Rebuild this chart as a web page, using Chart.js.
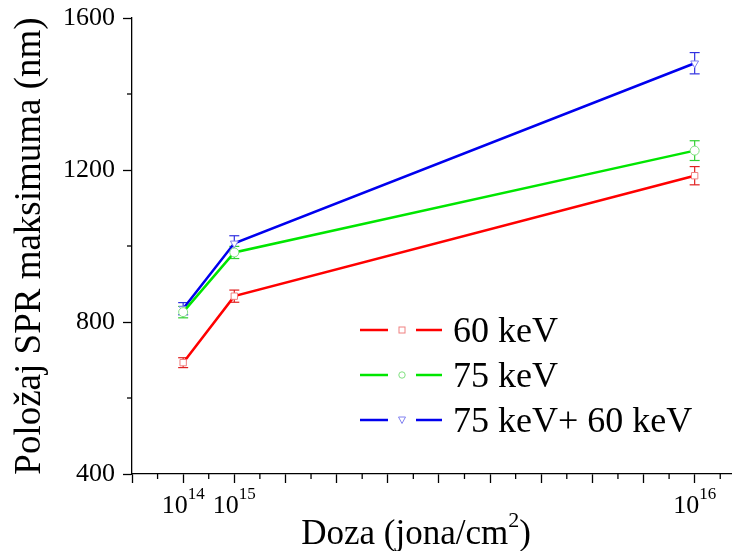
<!DOCTYPE html>
<html>
<head>
<meta charset="utf-8">
<script src="https://cdn.jsdelivr.net/npm/chart.js@4/dist/chart.umd.min.js"></script>
<style>
  html, body { margin: 0; padding: 0; background: #fff; }
  #wrap { position: relative; width: 737px; height: 551px; }
</style>
</head>
<body>
<div id="wrap"><canvas id="c" width="737" height="551"></canvas></div>
<script>
// ---- data (x positions in units of 1e15 ions/cm², matching the labelled ticks) ----
const doseX = [0, 1, 10];
const doseExponents = ['14', '15', '16'];
const seriesNames = ['60 keV', '75 keV', '75 keV+ 60 keV'];
const s60 = [693, 868, 1185];
const e60 = [13, 16, 24];
const s75 = [826, 983, 1251];
const e75 = [15, 16, 26];
const s7560 = [835, 1007, 1481];
const e7560 = [16, 20, 28];
const yTicks = [400, 800, 1200, 1600];

const SERIF = '"Liberation Serif", "Times New Roman", serif';
const lineColors = ['#ff0000', '#00e600', '#0000ee'];
const markerColors = ['#f08080', '#80e080', '#8080f0'];
const errColors = ['#e02020', '#30d030', '#3030e0'];
const values = [s60, s75, s7560];
const errors = [e60, e75, e7560];
const styles = ['rect', 'circle', 'triangle'];
const rotations = [0, 0, 180];

const datasets = values.map((arr, i) => ({
  label: seriesNames[i],
  data: arr.map((v, j) => ({ x: doseX[j], y: v })),
  borderColor: lineColors[i],
  borderWidth: 2.5,
  backgroundColor: '#ffffff',
  pointStyle: styles[i],
  pointRotation: rotations[i],
  pointRadius: 4.5,
  pointBorderColor: markerColors[i],
  pointBackgroundColor: '#ffffff',
  pointBorderWidth: 1,
  tension: 0,
  fill: false
}));

function drawTick(ctx, x1, y1, x2, y2) {
  ctx.beginPath(); ctx.moveTo(x1, y1); ctx.lineTo(x2, y2); ctx.stroke();
}

const errorBars = {
  id: 'errorBars',
  beforeDatasetsDraw(chart) {
    const ctx = chart.ctx, xs = chart.scales.x, ys = chart.scales.y;
    ctx.save();
    ctx.lineWidth = 1.2;
    values.forEach((arr, i) => {
      ctx.strokeStyle = errColors[i];
      arr.forEach((v, j) => {
        const x = xs.getPixelForValue(doseX[j]);
        const yt = ys.getPixelForValue(v + errors[i][j]);
        const yb = ys.getPixelForValue(v - errors[i][j]);
        drawTick(ctx, x, yt, x, yb);
        drawTick(ctx, x - 5, yt, x + 5, yt);
        drawTick(ctx, x - 5, yb, x + 5, yb);
      });
    });
    ctx.restore();
  }
};

const extras = {
  id: 'extras',
  afterDraw(chart) {
    const ctx = chart.ctx, xs = chart.scales.x, ys = chart.scales.y;
    const area = chart.chartArea;
    ctx.save();
    ctx.strokeStyle = '#000';
    ctx.lineWidth = 1.3;
    // minor ticks
    for (let v = xs.min + 0.5; v < xs.max; v += 1) {
      const x = xs.getPixelForValue(v);
      drawTick(ctx, x, area.bottom, x, area.bottom + 5);
    }
    for (let v = 600; v < 1600; v += 400) {
      const y = ys.getPixelForValue(v);
      drawTick(ctx, area.left, y, area.left - 5, y);
    }
    // x tick labels with superscript exponent
    ctx.fillStyle = '#000';
    ctx.textBaseline = 'alphabetic';
    doseX.forEach((v, j) => {
      const x = xs.getPixelForValue(v);
      ctx.font = '26px ' + SERIF;
      const w1 = ctx.measureText('10').width;
      ctx.font = '17px ' + SERIF;
      const w2 = ctx.measureText(doseExponents[j]).width;
      const left = x - (w1 + w2) / 2;
      ctx.font = '26px ' + SERIF;
      ctx.fillText('10', left, 513);
      ctx.font = '17px ' + SERIF;
      ctx.fillText(doseExponents[j], left + w1, 499);
    });
    // x axis title
    const t1 = 'Doza (jona/cm', t2 = '2', t3 = ')';
    ctx.font = '35px ' + SERIF;
    const a = ctx.measureText(t1).width, c = ctx.measureText(t3).width;
    ctx.font = '22px ' + SERIF;
    const b = ctx.measureText(t2).width;
    let tx = 416 - (a + b + c) / 2;
    ctx.font = '35px ' + SERIF;
    ctx.fillText(t1, tx, 544);
    ctx.font = '22px ' + SERIF;
    ctx.fillText(t2, tx + a, 527);
    ctx.font = '35px ' + SERIF;
    ctx.fillText(t3, tx + a + b, 544);
    // legend
    const rows = [330, 375, 420];
    rows.forEach((y, i) => {
      ctx.strokeStyle = lineColors[i];
      ctx.lineWidth = 2.5;
      drawTick(ctx, 360, y, 388, y);
      drawTick(ctx, 416, y, 442, y);
      ctx.strokeStyle = markerColors[i];
      ctx.lineWidth = 1;
      if (i === 0) {
        ctx.strokeRect(399, y - 3, 6, 6);
      } else if (i === 1) {
        ctx.beginPath(); ctx.arc(402, y, 3.2, 0, Math.PI * 2); ctx.stroke();
      } else {
        ctx.beginPath(); ctx.moveTo(398.5, y - 3); ctx.lineTo(405.5, y - 3); ctx.lineTo(402, y + 3.5); ctx.closePath(); ctx.stroke();
      }
      ctx.fillStyle = '#000';
      ctx.font = '36px ' + SERIF;
      ctx.fillText(seriesNames[i], 453, y + 12);
    });
    ctx.restore();
  }
};

new Chart(document.getElementById('c'), {
  type: 'line',
  data: { datasets },
  options: {
    responsive: false,
    animation: false,
    layout: { padding: { top: 18, right: 0, left: 0, bottom: 0 } },
    plugins: { legend: { display: false }, tooltip: { enabled: false } },
    scales: {
      x: {
        type: 'linear',
        min: -1,
        max: 10.72,
        afterFit(s) { s.height = 77; s.paddingLeft = 0; s.paddingRight = 0; },
        border: { display: true, color: '#000', width: 1.3 },
        grid: { drawOnChartArea: false, drawTicks: true, tickLength: 9, tickColor: '#000', tickWidth: 1.3 },
        ticks: { stepSize: 1, includeBounds: false, callback: () => '', font: { size: 1 }, autoSkip: false, maxRotation: 0 }
      },
      y: {
        type: 'linear',
        min: 400,
        max: 1600,
        afterFit(s) { s.width = 132; s.paddingTop = 0; s.paddingBottom = 0; },
        afterBuildTicks(s) { s.ticks = yTicks.map(v => ({ value: v })); },
        border: { display: true, color: '#000', width: 1.3 },
        grid: { drawOnChartArea: false, drawTicks: true, tickLength: 9, tickColor: '#000', tickWidth: 1.3 },
        ticks: { color: '#000', padding: 8, font: { family: SERIF, size: 26 }, callback: (v) => String(v) },
        title: {
          display: true,
          text: 'Položaj SPR maksimuma (nm)',
          color: '#000',
          font: { family: SERIF, size: 37, lineHeight: 1 },
          padding: { top: 12, bottom: 0 }
        }
      }
    }
  },
  plugins: [errorBars, extras]
});
</script>
</body>
</html>
